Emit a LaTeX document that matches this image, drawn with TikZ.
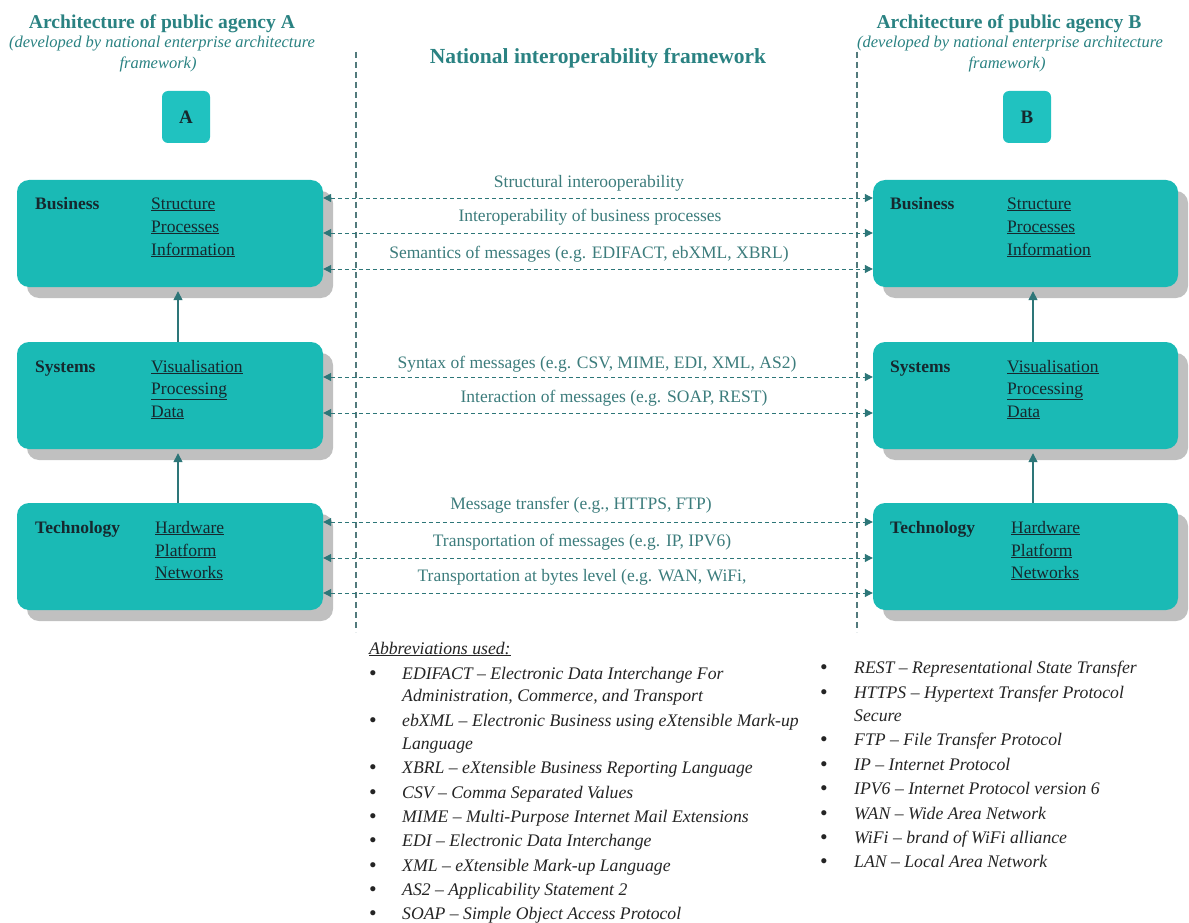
\documentclass[tikz,border=0pt]{standalone}
\usepackage{fontspec}
\setmainfont{Liberation Serif}
\usetikzlibrary{arrows.meta,shadows}

\definecolor{boxfill}{RGB}{26,186,181}
\definecolor{tagfill}{RGB}{32,194,192}
\definecolor{shadowgray}{RGB}{192,192,192}
\definecolor{headcol}{RGB}{42,130,130}
\definecolor{labelcol}{RGB}{60,124,124}
\definecolor{arrowcol}{RGB}{45,118,120}
\definecolor{dividercol}{RGB}{82,122,124}
\definecolor{boxtext}{RGB}{22,40,46}
\definecolor{listcol}{RGB}{36,36,36}

\begin{document}
\begin{tikzpicture}[x=1pt,y=1pt,
  layerbox/.style={fill=boxfill, rounded corners=12pt, minimum width=306pt,
    minimum height=107pt, inner sep=0pt,
    general shadow={fill=shadowgray, shadow xshift=10pt, shadow yshift=-11pt}},
  tagbox/.style={fill=tagfill, rounded corners=6pt, minimum width=48pt,
    minimum height=52pt, inner sep=0pt, text=boxtext,
    font=\fontsize{19}{22}\selectfont\bfseries},
  layername/.style={anchor=west, inner sep=0pt, text height=12pt, text depth=0pt,
    text=boxtext, font=\fontsize{17.5}{20}\selectfont\bfseries},
  layeritem/.style={anchor=west, inner sep=0pt, text height=12pt, text depth=0pt,
    text=boxtext, font=\fontsize{17.5}{20}\selectfont},
  flowlabel/.style={inner sep=0pt, text height=12pt, text depth=0pt,
    text=labelcol, font=\fontsize{17.5}{20}\selectfont},
  headline/.style={inner sep=0pt, text height=13pt, text depth=0pt,
    text=headcol, font=\fontsize{19.6}{22}\selectfont\bfseries},
  subline/.style={inner sep=0pt, text height=11pt, text depth=0pt,
    text=headcol, font=\fontsize{16.5}{19}\selectfont\itshape},
  flow/.style={draw=arrowcol, line width=1pt, dash pattern=on 4pt off 3pt,
    {Triangle[length=8pt,width=8pt]}-{Triangle[length=8pt,width=8pt]}},
  lift/.style={draw=arrowcol, line width=1.4pt, shorten >=4pt,
    -{Triangle[length=9pt,width=9pt]}},
  divider/.style={draw=dividercol, line width=1.3pt, dash pattern=on 6pt off 4pt},
  dot/.style={inner sep=0pt, text height=12pt, text depth=0pt, text=listcol,
    font=\fontsize{19}{20}\selectfont\bfseries},
  abbr/.style={anchor=west, inner sep=0pt, text height=12pt, text depth=0pt,
    text=listcol, font=\fontsize{17.7}{20}\selectfont\itshape}
]
\useasboundingbox (0,0) rectangle (1189,-923);

% framework dividers
\coordinate (dlt) at (356,-52);
\coordinate (dlb) at (356,-632);
\coordinate (drt) at (857,-52);
\coordinate (drb) at (857,-632);
\draw[divider] (dlt) -- (dlb);
\draw[divider] (drt) -- (drb);

% headings
\node[headline] (hA1) at (162,-22) {Architecture of public agency A};
\node[subline]  (hA2) at (162,-42) {(developed by national enterprise architecture};
\node[subline]  (hA3) at (158,-63) {framework)};
\node[headline] (hB1) at (1009,-22) {Architecture of public agency B};
\node[subline]  (hB2) at (1010,-42) {(developed by national enterprise architecture};
\node[subline]  (hB3) at (1007,-63) {framework)};
\node[headline, font=\fontsize{21.5}{24}\selectfont\bfseries] (nif) at (598,-57)
  {National interoperability framework};

% agency tags
\node[tagbox] (tA) at (186,-117) {A};
\node[tagbox] (tB) at (1027,-117) {B};

% layer boxes of agency A
\node[layerbox] (busA)  at (170,-233.5) {};
\node[layerbox] (sysA)  at (170,-395.5) {};
\node[layerbox] (techA) at (170,-556.5) {};
% layer boxes of agency B
\node[layerbox, minimum width=305pt] (busB)  at (1025.5,-233.5) {};
\node[layerbox, minimum width=305pt] (sysB)  at (1025.5,-395.5) {};
\node[layerbox, minimum width=305pt] (techB) at (1025.5,-556.5) {};

% contents of agency A
\node[layername] (nbA) at (35,-203) {Business};
\node[layeritem] (ib1A) at (151,-203) {\underline{Structure}};
\node[layeritem] (ib2A) at (151,-226) {\underline{Processes}};
\node[layeritem] (ib3A) at (151,-249) {\underline{Information}};
\node[layername] (nsA) at (35,-366) {Systems};
\node[layeritem] (is1A) at (151,-366) {\underline{Visualisation}};
\node[layeritem] (is2A) at (151,-388) {\underline{Processing}};
\node[layeritem] (is3A) at (151,-411) {\underline{Data}};
\node[layername] (ntA) at (35,-527) {Technology};
\node[layeritem] (it1A) at (155,-527) {\underline{Hardware}};
\node[layeritem] (it2A) at (155,-550) {\underline{Platform}};
\node[layeritem] (it3A) at (155,-572) {\underline{Networks}};

% contents of agency B
\node[layername] (nbB) at (890,-203) {Business};
\node[layeritem] (ib1B) at (1007,-203) {\underline{Structure}};
\node[layeritem] (ib2B) at (1007,-226) {\underline{Processes}};
\node[layeritem] (ib3B) at (1007,-249) {\underline{Information}};
\node[layername] (nsB) at (890,-366) {Systems};
\node[layeritem] (is1B) at (1007,-366) {\underline{Visualisation}};
\node[layeritem] (is2B) at (1007,-388) {\underline{Processing}};
\node[layeritem] (is3B) at (1007,-411) {\underline{Data}};
\node[layername] (ntB) at (890,-527) {Technology};
\node[layeritem] (it1B) at (1011,-527) {\underline{Hardware}};
\node[layeritem] (it2B) at (1011,-550) {\underline{Platform}};
\node[layeritem] (it3B) at (1011,-572) {\underline{Networks}};

% layers support the layer above
\draw[lift] ([xshift=8pt]sysA.north)  -- ([xshift=8pt]busA.south);
\draw[lift] ([xshift=8pt]techA.north) -- ([xshift=8pt]sysA.south);
\draw[lift] ([xshift=7.5pt]sysB.north)  -- ([xshift=7.5pt]busB.south);
\draw[lift] ([xshift=7.5pt]techB.north) -- ([xshift=7.5pt]sysB.south);

% exchange levels between the agencies
\coordinate (r1) at (0,-198);
\coordinate (r2) at (0,-233);
\coordinate (r3) at (0,-269);
\coordinate (r4) at (0,-377);
\coordinate (r5) at (0,-413);
\coordinate (r6) at (0,-522);
\coordinate (r7) at (0,-558);
\coordinate (r8) at (0,-593);
\draw[flow] (busA.east |- r1) -- (busB.west |- r1);
\draw[flow] (busA.east |- r2) -- (busB.west |- r2);
\draw[flow] (busA.east |- r3) -- (busB.west |- r3);
\draw[flow] (sysA.east |- r4) -- (sysB.west |- r4);
\draw[flow] (sysA.east |- r5) -- (sysB.west |- r5);
\draw[flow] (techA.east |- r6) -- (techB.west |- r6);
\draw[flow] (techA.east |- r7) -- (techB.west |- r7);
\draw[flow] (techA.east |- r8) -- (techB.west |- r8);

\node[flowlabel] (l1) at (589,-181) {Structural interooperability};
\node[flowlabel] (l2) at (590,-216) {Interoperability of business processes};
\node[flowlabel] (l3) at (589,-252) {Semantics of messages (e.g. EDIFACT, ebXML, XBRL)};
\node[flowlabel] (l4) at (597,-362) {Syntax of messages (e.g. CSV, MIME, EDI, XML, AS2)};
\node[flowlabel] (l5) at (614,-396) {Interaction of messages (e.g. SOAP, REST)};
\node[flowlabel] (l6) at (581,-503) {Message transfer (e.g., HTTPS, FTP)};
\node[flowlabel] (l7) at (582,-540) {Transportation of messages (e.g. IP, IPV6)};
\node[flowlabel] (l8) at (582,-575) {Transportation at bytes level (e.g. WAN, WiFi,};

% abbreviations, first column
\node[abbr] (abh) at (369,-648) {\underline{Abbreviations used:}};
\node[dot] (bl1) at (373,-673) {•};
\node[abbr] (al1a) at (402,-673) {EDIFACT – Electronic Data Interchange For};
\node[abbr] (al1b) at (402,-695) {Administration, Commerce, and Transport};
\node[dot] (bl2) at (373,-720) {•};
\node[abbr] (al2a) at (402,-720) {ebXML – Electronic Business using eXtensible Mark-up};
\node[abbr] (al2b) at (402,-743) {Language};
\node[dot] (bl3) at (373,-767) {•};
\node[abbr] (al3) at (402,-767) {XBRL – eXtensible Business Reporting Language};
\node[dot] (bl4) at (373,-792) {•};
\node[abbr] (al4) at (402,-792) {CSV – Comma Separated Values};
\node[dot] (bl5) at (373,-816) {•};
\node[abbr] (al5) at (402,-816) {MIME – Multi-Purpose Internet Mail Extensions};
\node[dot] (bl6) at (373,-840) {•};
\node[abbr] (al6) at (402,-840) {EDI – Electronic Data Interchange};
\node[dot] (bl7) at (373,-865) {•};
\node[abbr] (al7) at (402,-865) {XML – eXtensible Mark-up Language};
\node[dot] (bl8) at (373,-889) {•};
\node[abbr] (al8) at (402,-889) {AS2 – Applicability Statement 2};
\node[dot] (bl9) at (373,-913) {•};
\node[abbr] (al9) at (402,-913) {SOAP – Simple Object Access Protocol};

% abbreviations, second column
\node[dot] (br1) at (824,-667) {•};
\node[abbr] (ar1) at (854,-667) {REST – Representational State Transfer};
\node[dot] (br2) at (824,-692) {•};
\node[abbr] (ar2a) at (854,-692) {HTTPS – Hypertext Transfer Protocol};
\node[abbr] (ar2b) at (854,-715) {Secure};
\node[dot] (br3) at (824,-739) {•};
\node[abbr] (ar3) at (854,-739) {FTP – File Transfer Protocol};
\node[dot] (br4) at (824,-764) {•};
\node[abbr] (ar4) at (854,-764) {IP – Internet Protocol};
\node[dot] (br5) at (824,-788) {•};
\node[abbr] (ar5) at (854,-788) {IPV6 – Internet Protocol version 6};
\node[dot] (br6) at (824,-813) {•};
\node[abbr] (ar6) at (854,-813) {WAN – Wide Area Network};
\node[dot] (br7) at (824,-837) {•};
\node[abbr] (ar7) at (854,-837) {WiFi – brand of WiFi alliance};
\node[dot] (br8) at (824,-861) {•};
\node[abbr] (ar8) at (854,-861) {LAN – Local Area Network};
\end{tikzpicture}
\end{document}
